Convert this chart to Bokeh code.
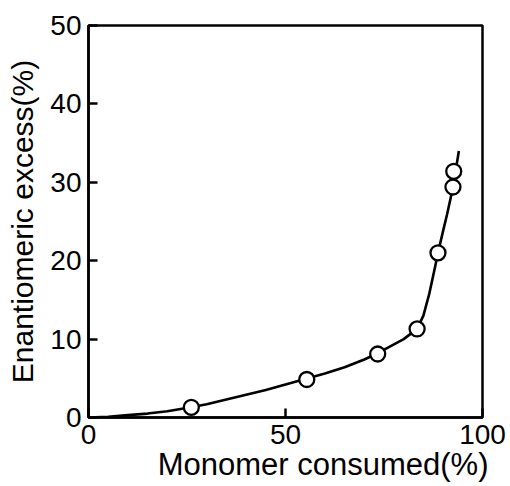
from bokeh.plotting import figure
from bokeh.models import Range1d, FixedTicker, Title
from bokeh.embed import file_html
from bokeh.resources import INLINE

# measured data points (monomer consumed %, enantiomeric excess %)
conv_pts = [26.1, 55.4, 73.4, 83.4, 88.7, 92.5, 92.7]
ee_pts = [1.3, 4.85, 8.1, 11.3, 21.0, 29.4, 31.4]

# fitted curve
curve_x = [0, 5, 10, 15, 20, 26, 30, 35, 40, 45, 50, 55, 60, 65, 70, 73, 76, 80, 83.4, 85, 86.5, 88, 88.7, 90, 91, 92, 92.5, 93.2, 94]
curve_y = [0, 0.1, 0.3, 0.5, 0.8, 1.3, 1.7, 2.3, 2.9, 3.5, 4.2, 4.9, 5.6, 6.4, 7.4, 8.1, 8.9, 10.0, 11.3, 13.0, 15.8, 19.3, 21.0, 23.8, 25.9, 28.2, 29.4, 31.5, 34.0]

x_ticks = [0, 50, 100]
y_ticks = [0, 10, 20, 30, 40, 50]

FONT = "Liberation Sans"

p = figure(width=510, height=486, output_backend="svg", toolbar_location=None,
           x_range=Range1d(0, 100), y_range=Range1d(0, 50),
           min_border_left=88, min_border_right=28, min_border_top=25, min_border_bottom=69)
p.grid.visible = False
p.background_fill_color = "white"
p.border_fill_color = "white"
p.outline_line_color = "black"
p.outline_line_width = 2.5

for ax in (p.xaxis, p.yaxis):
    ax.axis_line_width = 2.5
    ax.axis_line_color = "black"
    ax.major_tick_in = 9
    ax.major_tick_out = 0
    ax.major_tick_line_width = 2.5
    ax.minor_tick_line_color = None
    ax.major_label_text_font = FONT
    ax.major_label_text_font_size = "28px"
    ax.major_label_text_color = "black"
    ax.axis_label_text_font = FONT
    ax.axis_label_text_font_style = "normal"
    ax.axis_label_text_font_size = "30px"
    ax.axis_label_text_color = "black"

p.xaxis.ticker = FixedTicker(ticks=x_ticks)
p.yaxis.ticker = FixedTicker(ticks=y_ticks)
p.xaxis.major_label_standoff = 7
p.yaxis.major_label_standoff = 7

p.yaxis.axis_label = "Enantiomeric excess(%)"
p.yaxis.axis_label_standoff = 8

p.add_layout(Title(text="Monomer consumed(%)", align="right", offset=-6, standoff=-4,
                   text_font=FONT, text_font_size="31px", text_font_style="normal",
                   text_color="black"), "below")

p.line(curve_x, curve_y, line_color="black", line_width=2.6)
p.scatter(conv_pts, ee_pts, marker="circle", size=15, fill_color="white",
          line_color="black", line_width=2.3)

open("out.html", "w").write(file_html(p, INLINE))
